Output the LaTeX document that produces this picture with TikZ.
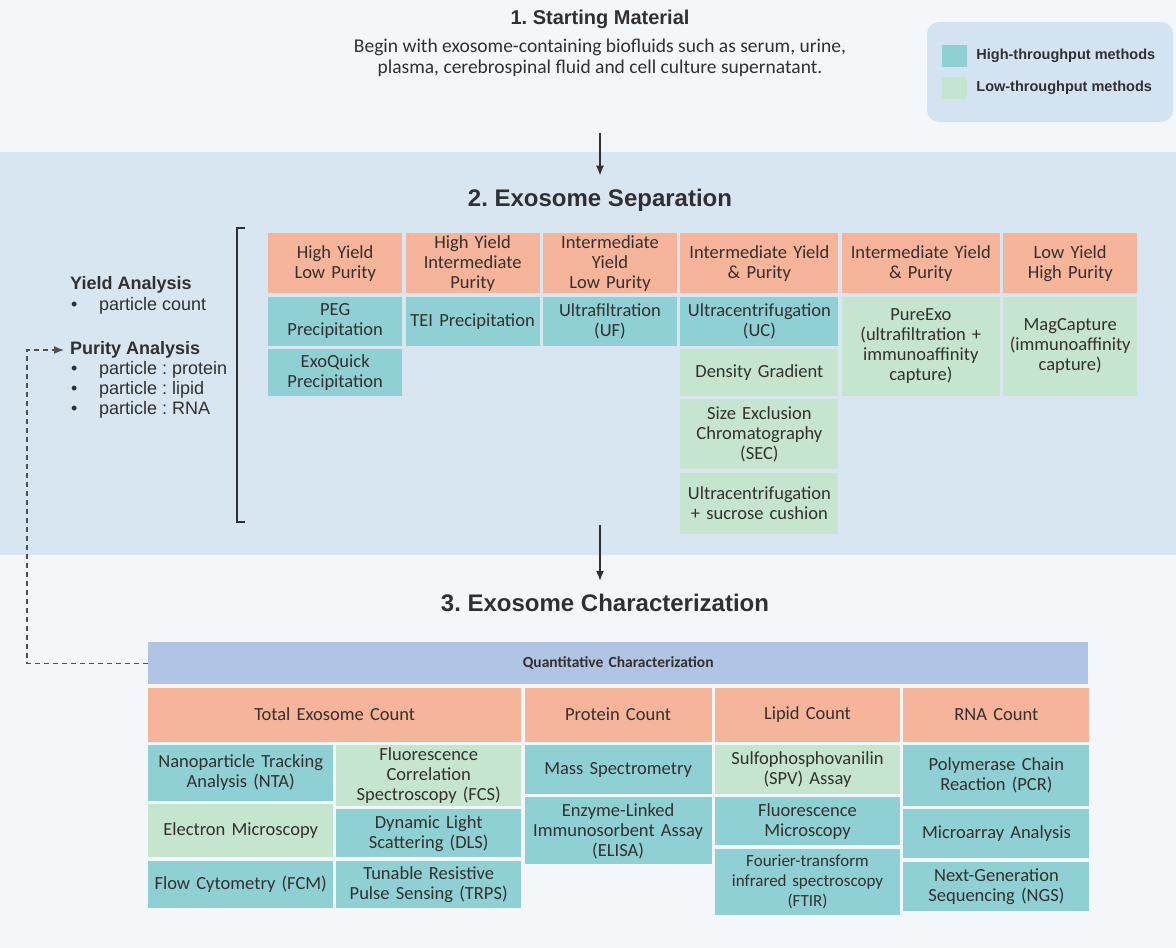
\documentclass[tikz,border=0pt]{standalone}
\usepackage{fontspec}
\setmainfont{Liberation Sans}
\newfontfamily\calfont{Carlito}
\usetikzlibrary{positioning,arrows.meta}
\frenchspacing

\definecolor{bgpale}{RGB}{244,247,250}
\definecolor{bgband}{RGB}{216,230,242}
\definecolor{legendbg}{RGB}{212,227,242}
\definecolor{salmon}{RGB}{246,180,154}
\definecolor{tealcell}{RGB}{143,208,212}
\definecolor{mintcell}{RGB}{197,229,207}
\definecolor{quantbar}{RGB}{177,196,228}
\definecolor{inkgray}{RGB}{48,48,48}
\definecolor{celltext}{RGB}{52,48,45}

\begin{document}
\begin{tikzpicture}
    [
    x=1pt, y=-1pt,
    >={Latex[length=10pt,width=8pt]},
    cell/.style 2 args={inner sep=0pt, align=center, text=celltext,
        text width=#1pt, minimum height=#2pt,
        font=\calfont\fontsize{18.5}{20}\selectfont},
    head/.style={fill=salmon},
    high/.style={fill=tealcell},
    low/.style={fill=mintcell},
    title/.style={inner sep=0pt, text=inkgray, font=\bfseries\fontsize{24}{28}\selectfont},
    side/.style={inner sep=0pt, anchor=west, text=inkgray, font=\fontsize{18}{20}\selectfont},
    key/.style={inner sep=0pt, minimum width=25pt, minimum height=22pt},
    flow/.style={->, line width=1.6pt, draw=inkgray}
    ]
    % background bands
    \fill[bgpale] (0,0) rectangle (1176,152);
    \fill[bgband] (0,152) rectangle (1176,555);
    \fill[bgpale] (0,555) rectangle (1176,948);
    \useasboundingbox (0,0) rectangle (1176,948);

    % legend
    \fill[legendbg, rounded corners=12pt] (927,22) rectangle (1173,122);
    \node (keyhi) [key, fill=tealcell] at (954.5,56) {};
    \node (keylo) [key, fill=mintcell] at (954.5,87.5) {};
    \node (keyhitext) [right=9pt of keyhi, inner sep=0pt, text=inkgray,
        font=\bfseries\fontsize{14.5}{16}\selectfont] {High-throughput methods};
    \node (keylotext) [right=9pt of keylo, inner sep=0pt, text=inkgray,
        font=\bfseries\fontsize{14.5}{16}\selectfont] {Low-throughput methods};

    % 1. starting material
    \node (start) [title, font=\bfseries\fontsize{20}{24}\selectfont] at (600,19) {1. Starting Material};
    \node (desc) [align=center, inner sep=0pt, text=inkgray,
        font=\calfont\fontsize{19.5}{21}\selectfont] at (600,58)
        {Begin with exosome-containing biofluids such as serum, urine,\\
         plasma, cerebrospinal fluid and cell culture supernatant.};

    % 2. exosome separation
    \node (sep) [title] at (600,200) {2. Exosome Separation};
    \coordinate (flowA) at (600,133);
    \draw[flow, shorten >=13pt] (flowA) -- (sep.north);

    \node (sep1) [cell={134}{60}, head, anchor=north west] at (268,233) {High Yield\\Low Purity};
    \node (sep2) [cell={134}{60}, head, right=3pt of sep1] {High Yield\\Intermediate\\Purity};
    \node (sep3) [cell={134}{60}, head, right=3pt of sep2] {Intermediate\\Yield\\Low Purity};
    \node (sep4) [cell={158}{60}, head, right=3pt of sep3] {Intermediate Yield\\\& Purity};
    \node (sep5) [cell={158}{60}, head, right=3pt of sep4] {Intermediate Yield\\\& Purity};
    \node (sep6) [cell={134}{60}, head, right=3pt of sep5] {Low Yield\\High Purity};

    \node (peg) [cell={134}{49}, high, below=3pt of sep1] {PEG\\Precipitation};
    \node (exoquick) [cell={134}{47}, high, below=3pt of peg] {ExoQuick\\Precipitation};
    \node (tei) [cell={134}{49}, high, below=3pt of sep2] {TEI Precipitation};
    \node (uf) [cell={134}{49}, high, below=3pt of sep3] {Ultrafiltration\\(UF)};
    \node (uc) [cell={158}{49}, high, below=3pt of sep4] {Ultracentrifugation\\(UC)};
    \node (density) [cell={158}{47}, low, below=3pt of uc] {Density Gradient};
    \node (sec) [cell={158}{70}, low, below=3pt of density] {Size Exclusion\\Chromatography\\(SEC)};
    \node (sucrose) [cell={158}{61}, low, below=3pt of sec] {Ultracentrifugation\\+ sucrose cushion};
    \node (pureexo) [cell={158}{99}, low, below=3pt of sep5] {PureExo\\(ultrafiltration +\\immunoaffinity\\capture)};
    \node (magcap) [cell={134}{99}, low, below=3pt of sep6] {MagCapture\\(immunoaffinity\\capture)};

    % bracket
    \draw[inkgray, line width=1.2pt] (245,228) -- (237,228) -- (237,522) -- (245,522);

    % yield / purity analysis
    \node (yield) [side, font=\bfseries\fontsize{18}{20}\selectfont] at (70,285) {Yield Analysis};
    \node (ycount) [side] at (71,306) {\makebox[28pt][l]{\textbullet}particle count};
    \node (purity) [side, font=\bfseries\fontsize{18}{20}\selectfont] at (70,350) {Purity Analysis};
    \foreach \y/\t in {370/protein,390/lipid,410/RNA}
        \node (ratio\t) [side] at (71,\y) {\makebox[28pt][l]{\textbullet}particle : \t};

    % 3. exosome characterization
    \node (charact) [title] at (605,603) {3. Exosome Characterization};
    \coordinate (flowB) at (600,525);
    \draw[flow, shorten >=13pt] (flowB) -- (flowB |- charact.north);

    \node (quant) [cell={940}{42}, fill=quantbar, anchor=north west,
        font=\calfont\bfseries\fontsize{15.5}{18}\selectfont] at (148,642) {Quantitative Characterization};
    \node (total) [cell={373}{54}, head, below=3pt of quant.south west, anchor=north west] {Total Exosome Count};
    \node (protein) [cell={187}{54}, head, right=3pt of total] {Protein Count};
    \node (lipid) [cell={185}{54}, head, right=3pt of protein] {Lipid Count};
    \node (rna) [cell={186}{54}, head, right=3pt of lipid] {RNA Count};

    \node (nta) [cell={185}{56}, high, below=3pt of total.south west, anchor=north west] {Nanoparticle Tracking\\Analysis (NTA)};
    \node (em) [cell={185}{53}, low, below=3pt of nta] {Electron Microscopy};
    \node (fcm) [cell={185}{47}, high, below=3pt of em] {Flow Cytometry (FCM)};
    \node (fcs) [cell={185}{61}, low, below=3pt of total.south east, anchor=north east] {Fluorescence\\Correlation\\Spectroscopy (FCS)};
    \node (dls) [cell={185}{48}, high, below=3pt of fcs] {Dynamic Light\\Scattering (DLS)};
    \node (trps) [cell={185}{47}, high, below=3pt of dls] {Tunable Resistive\\Pulse Sensing (TRPS)};

    \node (ms) [cell={187}{49}, high, below=3pt of protein] {Mass Spectrometry};
    \node (elisa) [cell={187}{67}, high, below=3pt of ms] {Enzyme-Linked\\Immunosorbent Assay\\(ELISA)};

    \node (spv) [cell={185}{49}, low, below=3pt of lipid] {Sulfophosphovanilin\\(SPV) Assay};
    \node (fm) [cell={185}{48}, high, below=3pt of spv] {Fluorescence\\Microscopy};
    \node (ftir) [cell={185}{66}, high, below=3pt of fm,
        font=\calfont\fontsize{17}{20}\selectfont] {Fourier-transform\\infrared spectroscopy\\(FTIR)};

    \node (pcr) [cell={186}{61}, high, below=3pt of rna] {Polymerase Chain\\Reaction (PCR)};
    \node (micro) [cell={186}{49}, high, below=3pt of pcr] {Microarray Analysis};
    \node (ngs) [cell={186}{49}, high, below=3pt of micro] {Next-Generation\\Sequencing (NGS)};

    % feedback to purity analysis
    \coordinate (fbturn) at (27,350);
    \draw[->, draw=inkgray!85, line width=1.4pt, dash pattern=on 5pt off 4pt,
        shorten >=6pt] (quant.west) -| (fbturn) -- (purity.west);
\end{tikzpicture}
\end{document}
